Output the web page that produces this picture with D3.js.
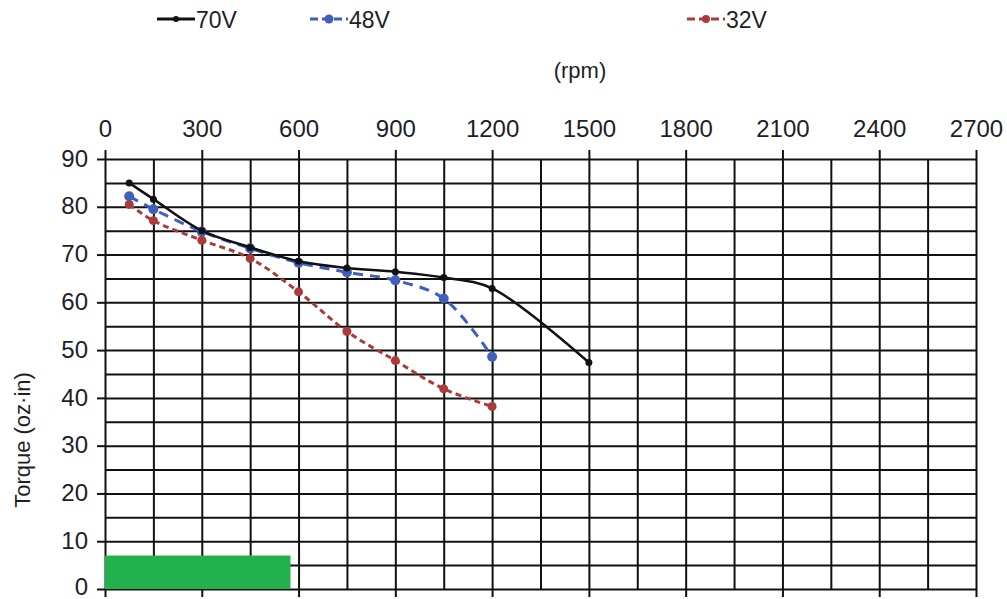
<!DOCTYPE html>
<html>
<head>
<meta charset="utf-8">
<script src="https://cdn.jsdelivr.net/npm/d3@7"></script>
<style>
body { margin: 0; background: #fff; }
text { font-family: "Liberation Sans", Arial, sans-serif; fill: #1e1e28; }
</style>
</head>
<body>
<script>
// speed (rpm) where each curve was measured
var rpm70 = [75, 150, 300, 450, 600, 750, 900, 1050, 1200, 1500];
var torque70 = [85, 81.6, 75, 71.5, 68.6, 67.2, 66.4, 65.2, 62.9, 47.4];

var rpm48 = [75, 150, 300, 450, 600, 750, 900, 1050, 1200];
var torque48 = [82.2, 79.5, 74.8, 71.3, 68.3, 66.3, 64.6, 60.8, 48.6];

var rpm32 = [75, 150, 300, 450, 600, 750, 900, 1050, 1200];
var torque32 = [80.5, 77.1, 73, 69.2, 62.2, 53.9, 47.8, 41.9, 38.2];

var xTicks = [0, 300, 600, 900, 1200, 1500, 1800, 2100, 2400, 2700];
var yTicks = [0, 10, 20, 30, 40, 50, 60, 70, 80, 90];
var seriesNames = ["70V", "48V", "32V"];

// green band at the bottom
var bandRpm = [0, 575];
var bandTorque = 7;

var width = 1007, height = 599;

var x = d3.scaleLinear().domain([0, 2700]).range([105, 976]);
var y = d3.scaleLinear().domain([0, 90]).range([589, 159]);

var svg = d3.select("body").append("svg")
  .attr("width", width)
  .attr("height", height);

// grid
svg.append("g")
  .attr("transform", "translate(0," + y(0) + ")")
  .call(d3.axisBottom(x).tickValues(d3.range(0, 2701, 150)).tickSize(-(y(0) - y(90))).tickFormat(""))
  .call(function(g) { g.select(".domain").remove(); })
  .selectAll("line").attr("stroke", "#111").attr("stroke-width", 2);

svg.append("g")
  .attr("transform", "translate(" + x(0) + ",0)")
  .call(d3.axisLeft(y).tickValues(d3.range(0, 91, 5)).tickSize(-(x(2700) - x(0))).tickFormat(""))
  .call(function(g) { g.select(".domain").remove(); })
  .selectAll("line").attr("stroke", "#111").attr("stroke-width", 2);

// axes with labels
var topAxis = svg.append("g")
  .attr("transform", "translate(0," + y(90) + ")")
  .call(d3.axisTop(x).tickValues(xTicks).tickSize(9).tickPadding(13).tickFormat(d3.format("d")));
topAxis.select(".domain").remove();
topAxis.selectAll("line").attr("stroke", "#111").attr("stroke-width", 2);
topAxis.selectAll("text").style("font-size", "24px").attr("fill", "#1e1e28");

var bottomAxis = svg.append("g")
  .attr("transform", "translate(0," + y(0) + ")")
  .call(d3.axisBottom(x).tickValues(xTicks).tickSize(8).tickFormat(""));
bottomAxis.select(".domain").remove();
bottomAxis.selectAll("line").attr("stroke", "#111").attr("stroke-width", 2);

var leftAxis = svg.append("g")
  .attr("transform", "translate(" + x(0) + ",0)")
  .call(d3.axisLeft(y).tickValues(yTicks).tickSize(8).tickPadding(9).tickFormat(d3.format("d")));
leftAxis.select(".domain").remove();
leftAxis.selectAll("line").attr("stroke", "#111").attr("stroke-width", 2);
leftAxis.selectAll("text").style("font-size", "24px").attr("fill", "#1e1e28")
  .attr("dy", function(d) { return d === 0 ? "0.22em" : "0.3em"; });

// green band
svg.append("rect")
  .attr("x", x(bandRpm[0]))
  .attr("y", y(bandTorque))
  .attr("width", x(bandRpm[1]) - x(bandRpm[0]))
  .attr("height", y(0) - y(bandTorque))
  .attr("fill", "#22b14c");

var series = [
  { name: seriesNames[0], xs: rpm70, ys: torque70, color: "#111111", dash: null, width: 2.5, r: 3.5 },
  { name: seriesNames[1], xs: rpm48, ys: torque48, color: "#3e5fbb", dash: "10,7", width: 3, r: 5 },
  { name: seriesNames[2], xs: rpm32, ys: torque32, color: "#ab3b3b", dash: "6,4", width: 3, r: 4.5 }
];

var line = d3.line()
  .x(function(d) { return x(d[0]); })
  .y(function(d) { return y(d[1]); })
  .curve(d3.curveCatmullRom.alpha(0.5));

series.slice().reverse().forEach(function(s) {
  var pts = s.xs.map(function(v, i) { return [v, s.ys[i]]; });
  svg.append("path")
    .datum(pts)
    .attr("fill", "none")
    .attr("stroke", s.color)
    .attr("stroke-width", s.width)
    .attr("stroke-dasharray", s.dash)
    .attr("d", line);
  svg.selectAll(null)
    .data(pts)
    .enter().append("circle")
    .attr("cx", function(d) { return x(d[0]); })
    .attr("cy", function(d) { return y(d[1]); })
    .attr("r", s.r)
    .attr("fill", s.color);
});

// legend
var legendX = [157, 310, 687];
series.forEach(function(s, i) {
  var g = svg.append("g").attr("transform", "translate(" + legendX[i] + ",19)");
  g.append("line")
    .attr("x1", 0).attr("x2", 38).attr("y1", 0).attr("y2", 0)
    .attr("stroke", s.color)
    .attr("stroke-width", 3)
    .attr("stroke-dasharray", s.dash ? "8,4" : null);
  g.append("circle").attr("cx", 19).attr("cy", 0).attr("r", s.r - 0.5).attr("fill", s.color);
  g.append("text")
    .attr("x", 39).attr("y", 9)
    .style("font-size", "23px")
    .text(s.name);
});

svg.append("text")
  .attr("x", 580).attr("y", 78)
  .attr("text-anchor", "middle")
  .style("font-size", "22px")
  .text("(rpm)");

svg.append("text")
  .attr("transform", "translate(30,440) rotate(-90)")
  .attr("text-anchor", "middle")
  .style("font-size", "22px")
  .text("Torque (oz·in)");
</script>
</body>
</html>
